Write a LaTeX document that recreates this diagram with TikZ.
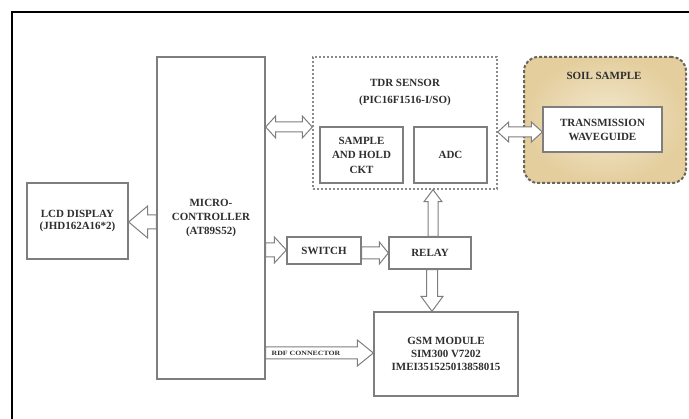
\documentclass[tikz,border=0pt]{standalone}
\usepackage{fontspec}
\setmainfont{Liberation Serif}
\usetikzlibrary{calc}
\definecolor{ln}{HTML}{7E7E7E}
\definecolor{tx}{HTML}{2E2E2E}
\definecolor{soilin}{HTML}{F3E8CE}
\definecolor{soilout}{HTML}{E4CE9E}
\definecolor{soilbd}{HTML}{6A665C}
\definecolor{tdrbd}{HTML}{8A8A8A}
\newcommand\hblock[5]{\draw[blk] let \p1=(#1), \p2=(#2), \n1={ifthenelse(\x2>\x1,1,-1)} in
 (\x1,\y1+#3) -- ({\x2-\n1*#5},\y1+#3) -- ({\x2-\n1*#5},\y1+#4) -- (\x2,\y1) -- ({\x2-\n1*#5},\y1-#4) -- ({\x2-\n1*#5},\y1-#3) -- (\x1,\y1-#3) -- cycle;}
\newcommand\vblock[5]{\draw[blk] let \p1=(#1), \p2=(#2), \n1={ifthenelse(\y2>\y1,1,-1)} in
 (\x1+#3,\y1) -- (\x1+#3,{\y2-\n1*#5}) -- (\x1+#4,{\y2-\n1*#5}) -- (\x2,\y2) -- (\x1-#4,{\y2-\n1*#5}) -- (\x1-#3,{\y2-\n1*#5}) -- (\x1-#3,\y1) -- cycle;}
\newcommand\hdouble[5]{\draw[blk] let \p1=(#1), \p2=(#2), \n1={ifthenelse(\x2>\x1,1,-1)} in
 (\x1,\y1) -- ({\x1+\n1*#5},\y1+#4) -- ({\x1+\n1*#5},\y1+#3) -- ({\x2-\n1*#5},\y1+#3) -- ({\x2-\n1*#5},\y1+#4) -- (\x2,\y1) -- ({\x2-\n1*#5},\y1-#4) -- ({\x2-\n1*#5},\y1-#3) -- ({\x1+\n1*#5},\y1-#3) -- ({\x1+\n1*#5},\y1-#4) -- cycle;}
\begin{document}
\begin{tikzpicture}[x=1pt,y=-1pt,
 box/.style={draw=ln,line width=1.3pt,fill=white,inner sep=0pt,align=center,font=\bfseries\fontsize{11}{12}\selectfont,text=tx},
 lbl/.style={inner sep=0pt,align=center,font=\bfseries\fontsize{11}{13}\selectfont,text=tx},
 blk/.style={draw=ln,line width=1pt,fill=white,line join=miter}]
\useasboundingbox (0,0) rectangle (689,419);
\fill[white] (0,0) rectangle (689,419);
\begin{scope}
\clip (0,0) rectangle (689,419);
\draw[line width=2.6pt] (12,12) rectangle (720,450);
\end{scope}
% blocks
\node[box,minimum width=108pt,minimum height=322pt,font=\bfseries\fontsize{11}{14}\selectfont] (mc) at (211,218) {MICRO-\\CONTROLLER\\(AT89S52)};
\node[draw=tdrbd,line width=1.4pt,dash pattern=on 2pt off 2pt,minimum width=184pt,minimum height=132pt,inner sep=0pt] (tdr) at (405,123) {};
\node[lbl,font=\bfseries\fontsize{11}{17}\selectfont] (tdrl) at (405,93) {TDR SENSOR\\(PIC16F1516-I/SO)};
\node[box,minimum width=83pt,minimum height=56pt,font=\bfseries\fontsize{11}{14.5}\selectfont] (sh) at (361.5,155) {SAMPLE\\AND HOLD\\CKT};
\node[box,minimum width=73pt,minimum height=56pt] (adc) at (450.5,155) {ADC};
\node[draw=soilbd,line width=2pt,dash pattern=on 3pt off 2pt,rounded corners=14pt,inner color=soilin,outer color=soilout,minimum width=162pt,minimum height=126pt,inner sep=0pt] (soil) at (605,120) {};
\node[lbl] (soill) at (604,76) {SOIL SAMPLE};
\node[box,minimum width=119pt,minimum height=45pt,font=\bfseries\fontsize{11}{14}\selectfont] (wg) at (602.5,129.5) {TRANSMISSION\\WAVEGUIDE};
\node[box,minimum width=101pt,minimum height=76pt,font=\bfseries\fontsize{11}{11.5}\selectfont] (lcd) at (77.5,221) {LCD DISPLAY\\(JHD162A16*2)};
\node[box,minimum width=74pt,minimum height=27pt] (sw) at (324,250.5) {SWITCH};
\node[box,minimum width=82pt,minimum height=32pt] (relay) at (430,253) {RELAY};
\node[box,minimum width=144pt,minimum height=84pt,font=\bfseries\fontsize{11}{13}\selectfont] (gsm) at (446,354) {GSM MODULE\\SIM300 V7202\\IMEI351525013858015};
% arrows
\hdouble{mc.east |- 0,127}{tdr.west |- 0,127}{5pt}{11pt}{10pt}
\hdouble{tdr.east |- 0,132}{wg.west |- 0,132}{5pt}{10pt}{11pt}
\hblock{mc.west |- 0,222}{lcd.east |- 0,222}{7pt}{16pt}{19pt}
\hblock{mc.east |- 0,250}{sw.west |- 0,250}{7pt}{13pt}{12pt}
\hblock{sw.east |- 0,253}{relay.west |- 0,253}{6pt}{11pt}{9pt}
\vblock{relay.north -| 433,0}{tdr.south -| 433,0}{5pt}{9pt}{12pt}
\vblock{relay.south -| 432,0}{gsm.north -| 432,0}{5.5pt}{11pt}{15pt}
\hblock{mc.east |- 0,353}{gsm.west |- 0,353}{6pt}{13pt}{16pt}
\node[inner sep=0pt,text=tx,font=\bfseries\fontsize{6.5}{7}\selectfont] (rdf) at (306,353) {\scalebox{1.2}[1]{RDF CONNECTOR}};
\end{tikzpicture}
\end{document}
